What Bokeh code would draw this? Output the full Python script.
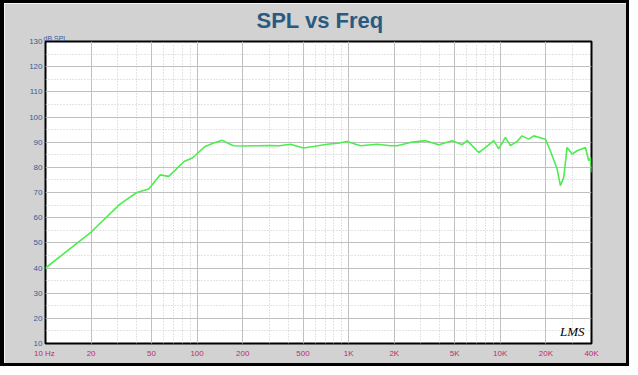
from bokeh.plotting import figure
from bokeh.models import Range1d, FixedTicker, Label, Title
from bokeh.embed import file_html
from bokeh.resources import INLINE

# ---- data ----
freq = [10, 20, 31, 40, 48, 57, 65, 72, 82, 93, 113, 130, 146, 160, 174, 200, 250,
        300, 350, 413, 503, 600, 721, 850, 977, 1100, 1197, 1542, 1888, 2089, 2557,
        3213, 3928, 4818, 5612, 6050, 7211, 7787, 9059, 9775, 10818, 11670, 12910,
        13930, 15410, 16630, 19860, 21430, 23730, 24950, 26240, 27600, 29800, 32150,
        36480, 38360, 39430, 40000]
spl = [40.0, 54.3, 65.4, 70.0, 71.4, 77.0, 76.4, 79.0, 82.3, 83.7, 88.3, 89.8, 90.8, 89.6,
       88.6, 88.5, 88.6, 88.7, 88.6, 89.2, 87.7, 88.4, 89.2, 89.6, 90.3, 89.3, 88.6,
       89.2, 88.6, 88.6, 89.9, 90.6, 89.0, 90.6, 89.0, 90.6, 85.9, 87.3, 90.6, 87.3,
       91.9, 88.6, 90.3, 92.5, 91.2, 92.5, 91.2, 86.5, 79.3, 72.7, 76.0, 87.9, 85.3,
       86.6, 87.9, 82.6, 83.9, 78.0]

x_ticks = [10, 20, 50, 100, 200, 500, 1000, 2000, 5000, 10000, 20000, 40000]
x_tick_labels = ["10  Hz", "20", "50", "100", "200", "500", "1K", "2K", "5K", "10K", "20K", "40K"]
y_ticks = [10, 20, 30, 40, 50, 60, 70, 80, 90, 100, 110, 120, 130]
x_minor = [m * d for d in (10, 100, 1000, 10000) for m in range(2, 10) if m * d <= 40000]
y_minor = [v + 5 for v in y_ticks[:-1]]

X0, X1, Y0, Y1 = 10, 40000, 10, 130

p = figure(width=629, height=366, x_axis_type="log",
           x_range=Range1d(X0, X1), y_range=Range1d(Y0, Y1),
           output_backend="svg", toolbar_location=None,
           min_border_left=41, min_border_right=42, min_border_top=38, min_border_bottom=26,
           background_fill_color="white", border_fill_color="#d2d2d2")
p.styles = {"border-right": "3px solid black", "border-bottom": "3px solid black",
            "border-left": "4px solid black", "border-top": "3px solid black"}

p.outline_line_color = "black"
p.outline_line_width = 2

# titles (the first one added sits next to the frame)
p.add_layout(Title(text="dB SPL", align="left", offset=-2, standoff=0,
                   text_font="Liberation Sans", text_font_style="normal",
                   text_font_size="7px", text_color="#3a5a9a"), "above")
p.add_layout(Title(text="SPL vs Freq", align="left", offset=211, standoff=0,
                   text_font="Liberation Sans", text_font_style="bold",
                   text_font_size="22px", text_color="#2a5a80"), "above")

# axes
for ax in (p.xaxis[0], p.yaxis[0]):
    ax.axis_line_color = None
    ax.major_tick_line_color = None
    ax.minor_tick_line_color = None
    ax.major_tick_out = 0
    ax.major_tick_in = 0
    ax.major_label_text_font = "Liberation Sans"
    ax.major_label_text_font_size = "8px"

p.xaxis.ticker = FixedTicker(ticks=x_ticks)
p.xaxis.major_label_overrides = {t: l for t, l in zip(x_ticks, x_tick_labels)}
p.xaxis.major_label_text_color = "#c02a6a"
p.xaxis.major_label_standoff = 5

p.yaxis.ticker = FixedTicker(ticks=y_ticks)
p.yaxis.major_label_text_color = "#3a5a9a"
p.yaxis.major_label_standoff = 3

# grids
p.xgrid.ticker = FixedTicker(ticks=x_ticks, minor_ticks=x_minor)
p.xgrid.grid_line_color = "#c0c0c0"
p.xgrid.grid_line_width = 1
p.xgrid.minor_grid_line_color = "#c8c8c8"
p.xgrid.minor_grid_line_dash = "1 2"

p.ygrid.ticker = FixedTicker(ticks=y_ticks, minor_ticks=y_minor)
p.ygrid.grid_line_color = "#c0c0c0"
p.ygrid.grid_line_width = 1
p.ygrid.minor_grid_line_color = "#c8c8c8"
p.ygrid.minor_grid_line_dash = "1 2"

# curve
p.line(freq, spl, line_color="#4ded4d", line_width=1.6)

# logo
p.add_layout(Label(x=X1, y=Y0, x_offset=-7, y_offset=5, text="LMS",
                   text_font="Liberation Serif", text_font_style="italic",
                   text_font_size="13px", text_color="black",
                   text_align="right", text_baseline="bottom"))

open("out.html", "w").write(file_html(p, INLINE))
